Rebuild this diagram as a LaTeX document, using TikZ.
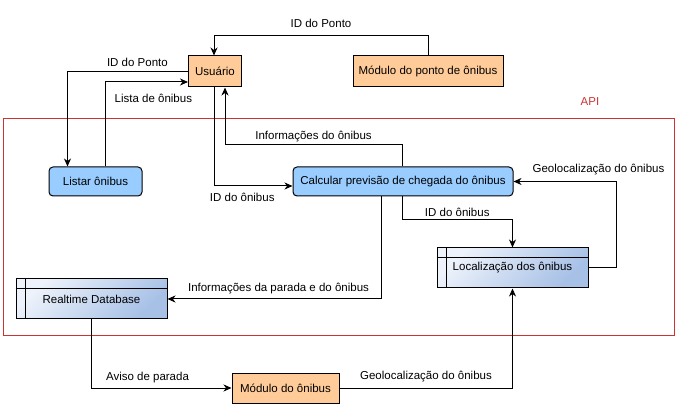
\documentclass[tikz,border=0pt]{standalone}
\usepackage{fontspec}
\setmainfont{Liberation Sans}
\usetikzlibrary{calc,arrows.meta}
\definecolor{orangebox}{HTML}{FFCC99}
\definecolor{bluebox}{HTML}{99CCFF}
\definecolor{dblight}{HTML}{EEF3FB}
\definecolor{dbdark}{HTML}{A6C0E6}
\definecolor{apired}{HTML}{CC3333}
\tikzset{
  actor/.style={draw=black, fill=orangebox, inner sep=0pt, minimum height=31},
  process/.style={draw=black, fill=bluebox, rounded corners=4pt, inner sep=0pt, minimum height=29},
  store/.style={draw=black, top color=dblight, bottom color=dbdark, shading angle=45,
    inner sep=0pt, minimum width=151, minimum height=40},
  flow/.style={draw=black, line width=1pt, -{Stealth[length=8pt,width=7pt,inset=2.5pt]}},
  lbl/.style={inner sep=1pt, text=black}
}
\newcommand{\StoreLines}[1]{%
  \draw[line width=1pt] ([yshift=-10pt]#1.north west) -- ([yshift=-10pt]#1.north east);
  \draw[line width=1pt] ([xshift=10pt]#1.north west) -- ([xshift=10pt]#1.south west);
}

\begin{document}
\begin{tikzpicture}[x=1pt, y=-1pt, font=\fontsize{11.5}{13}\selectfont, line width=1pt]
  \useasboundingbox (0,0) rectangle (685,419);

  % API border
  \draw[apired] (3,119) rectangle (674,336);
  \node[text=apired] (api) at (590,102) {API};

  \node[actor, minimum width=53] (usu) at (215,71.5) {Usuário};
  \node[actor, minimum width=150] (mpo) at (428,71.5) {Módulo do ponto de ônibus};
  \node[process, minimum width=93] (lst) at (95.5,181.5) {Listar ônibus};
  \node[process, minimum width=220] (clc) at (403,181.5) {Calcular previsão de chegada do ônibus};
  \node[store] (loc) at (512.5,268) {Localização dos ônibus};
  \node[store] (rt) at (91.5,299) {Realtime Database};
  \node[actor, minimum width=107, minimum height=30] (mdo) at (285.5,388) {Módulo do ônibus};
  \StoreLines{loc}
  \StoreLines{rt}

  \draw[flow] (mpo.north) -- ++(0,-20) -| ([xshift=-1pt]usu.north)
    node[lbl, pos=0.25, above=6pt] {ID do Ponto};
  \draw[flow] (usu.west) -| ([xshift=19pt]lst.north west)
    node[lbl, pos=0.21, above=3pt] {ID do Ponto};
  \draw[flow] ([xshift=10pt]lst.north) |- ([yshift=-10.5pt]usu.west)
    node[lbl, pos=0.79, below=11pt] {Lista de ônibus};
  \draw[flow] ([xshift=-1pt]usu.south) |- ([yshift=-4.5pt]clc.west)
    node[lbl, pos=0.68, below=6pt] {ID do ônibus};
  \draw[flow] ([xshift=-1pt]clc.north) -- ++(0,-22) -| ([xshift=10pt]usu.south)
    node[lbl, pos=0.25, above=1pt] {Informações do ônibus};
  \draw[flow] (loc.east) -- ++(28,0) |- (clc.east)
    node[lbl, pos=0.5, above=5pt, xshift=-18pt] {Geolocalização do ônibus};
  \draw[flow] ([xshift=-1pt]clc.south) -- ++(0,23) -| (loc.north)
    node[lbl, pos=0.25, above=1pt] {ID do ônibus};
  \draw[flow] ([xshift=-22pt]clc.south) |- (rt.east)
    node[lbl, pos=0.74, above=4pt] {Informações da parada e do ônibus};
  \draw[flow] (rt.south) |- (mdo.west)
    node[lbl, pos=0.7, above=4pt] {Aviso de parada};
  \draw[flow] (mdo.east) -| (loc.south)
    node[lbl, pos=0.25, above=5pt] {Geolocalização do ônibus};
\end{tikzpicture}
\end{document}
